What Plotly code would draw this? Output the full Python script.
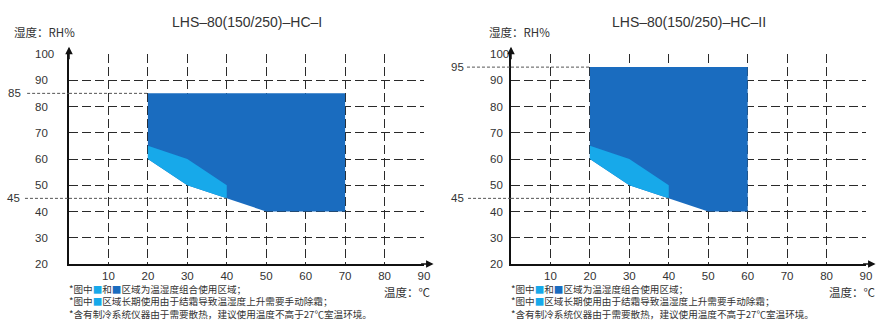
import plotly.graph_objects as go

# ---------------- data ----------------
titles = ["LHS–80(150/250)–HC–I", "LHS–80(150/250)–HC–II"]
x_ticks = [10, 20, 30, 40, 50, 60, 70, 80, 90]
y_ticks = [20, 30, 40, 50, 60, 70, 80, 90, 100]

# lower boundary of the usable area (shared)
low_x = [20, 30, 40, 50]
low_y = [60, 50, 45, 40]

# chart I: dark region top / right
dark1_top = 85
dark1_right = 70
# chart II
dark2_top = 95
dark2_right = 60

# light (frost) region
light_x = [20, 30, 40, 40, 30, 20]
light_y = [65, 60, 50, 45, 50, 60]

# reference levels
ref1 = [85, 45]
ref2 = [95, 45]
ref_x_end1 = [20, 40]
ref_x_end2 = [20, 40]

DARK = "#1a6cbf"
LIGHT = "#17a9ea"
GRID = "#2a2a2a"
TXT = "#333333"
FONT = "Liberation Sans, Arial, sans-serif"
CJK = "Noto Sans CJK SC"

box_l = f"<span style='color:{LIGHT}'>■</span>"
box_d = f"<span style='color:{DARK}'>■</span>"
notes = [
    f"*图中{box_l}和{box_d}区域为温湿度组合使用区域；",
    f"*图中{box_l}区域长期使用由于结霜导致温湿度上升需要手动除霜；",
    "*含有制冷系统仪器由于需要散热，建议使用温度不高于27℃室温环境。",
]

fig = go.Figure()

domains = [[69 / 887, 424 / 887], [511 / 887, 866 / 887]]
ydom = [62 / 326, 272 / 326]

# per chart: (top, right, refs, ref ends, xa, ya, ref line starts, ref label xs, ytick label x, ylabel x, xlabel x)
configs = [
    (dark1_top, dark1_right, ref1, ref_x_end1, "x", "y", [-0.118, -0.124], [-0.13, -0.132], -0.101, -0.16, 1.025),
    (dark2_top, dark2_right, ref2, ref_x_end2, "x2", "y2", [-0.124, -0.121], [-0.127, -0.127], -0.065, -0.068, 1.034),
]

for i, (top, right, refs, rx, xa, ya, line_starts, lab_xs, ytx, ylx, xlx) in enumerate(configs):
    dx = [low_x[0], low_x[0], right, right] + low_x[::-1]
    dy = [low_y[0], top, top, low_y[-1]] + low_y[::-1]
    fig.add_trace(go.Scatter(x=dx, y=dy, fill="toself", fillcolor=DARK, mode="lines",
                             line=dict(width=0, color=DARK), xaxis=xa, yaxis=ya,
                             hoverinfo="skip", showlegend=False))
    fig.add_trace(go.Scatter(x=light_x, y=light_y, fill="toself", fillcolor=LIGHT, mode="lines",
                             line=dict(width=0, color=LIGHT), xaxis=xa, yaxis=ya,
                             hoverinfo="skip", showlegend=False))
    for r, xe, lx, ls in zip(refs, rx, lab_xs, line_starts):
        fig.add_shape(type="line", xref=f"{xa} domain", yref=ya, x0=ls, x1=0, y0=r, y1=r,
                      line=dict(color="#555", width=1, dash="3px,2px"))
        fig.add_shape(type="line", xref=xa, yref=ya, x0=0, x1=xe, y0=r, y1=r,
                      line=dict(color="#555", width=1, dash="3px,2px"))
        fig.add_annotation(xref=f"{xa} domain", yref=ya, x=lx, y=r, text=str(r), showarrow=False,
                           xanchor="right", yanchor="middle", font=dict(size=11.5, color=TXT, family=FONT))
    # y tick labels (left aligned)
    for v in y_ticks:
        fig.add_annotation(xref=f"{xa} domain", yref=ya, x=ytx, y=v, text=str(v), showarrow=False,
                           xanchor="left", yanchor="middle", font=dict(size=11.5, color=TXT, family=FONT))
    # axis arrows
    fig.add_annotation(xref=f"{xa} domain", yref=f"{ya} domain", x=0, y=1.035, ax=0, ay=14,
                       axref="pixel", ayref="pixel", text="", showarrow=True, arrowhead=2,
                       arrowsize=1, arrowwidth=1.5, arrowcolor="#111")
    fig.add_annotation(xref=f"{xa} domain", yref=f"{ya} domain", x=1.027, y=0, ax=-14, ay=0,
                       axref="pixel", ayref="pixel", text="", showarrow=True, arrowhead=2,
                       arrowsize=1, arrowwidth=1.5, arrowcolor="#111")
    # titles / axis labels
    fig.add_annotation(xref=f"{xa} domain", yref="paper", x=0.5, y=1 - 22 / 326, text=titles[i],
                       showarrow=False, xanchor="center", yanchor="middle",
                       font=dict(size=14, color=TXT, family=FONT))
    fig.add_annotation(xref=f"{xa} domain", yref="paper", x=ylx, y=1 - 32 / 326, text="湿度：RH%",
                       showarrow=False, xanchor="left", yanchor="middle",
                       font=dict(size=11.5, color=TXT, family=CJK))
    fig.add_annotation(xref=f"{xa} domain", yref="paper", x=xlx, y=1 - 292 / 326, text="温度：℃",
                       showarrow=False, xanchor="right", yanchor="middle",
                       font=dict(size=11.5, color=TXT, family=CJK))
    fig.add_annotation(xref=f"{xa} domain", yref="paper", x=-0.005, y=1 - 301 / 326,
                       text="<br>".join(notes), showarrow=False, xanchor="left", yanchor="middle",
                       align="left", font=dict(size=9.6, color=TXT, family=CJK))

axis_common = dict(showline=True, linecolor="#111", linewidth=1.5, ticks="",
                   showgrid=True, gridcolor=GRID, gridwidth=1, griddash="9px,4px",
                   zeroline=False, automargin=False,
                   tickfont=dict(size=11.5, color=TXT, family=FONT))

for i, (xa, ya) in enumerate([("xaxis", "yaxis"), ("xaxis2", "yaxis2")]):
    xname = "x" if i == 0 else "x2"
    yname = "y" if i == 0 else "y2"
    fig.update_layout(**{
        xa: dict(axis_common, domain=domains[i], range=[0, 90], tickvals=x_ticks,
                 ticktext=[str(v) for v in x_ticks], anchor=yname, ticklabelstandoff=0),
        ya: dict(axis_common, domain=ydom, range=[20, 100], tickvals=y_ticks,
                 showticklabels=False, anchor=xname),
    })

fig.update_layout(width=887, height=326, margin=dict(l=0, r=0, t=0, b=0, autoexpand=False),
                  plot_bgcolor="white", paper_bgcolor="white", showlegend=False)

fig.write_html("out.html")
